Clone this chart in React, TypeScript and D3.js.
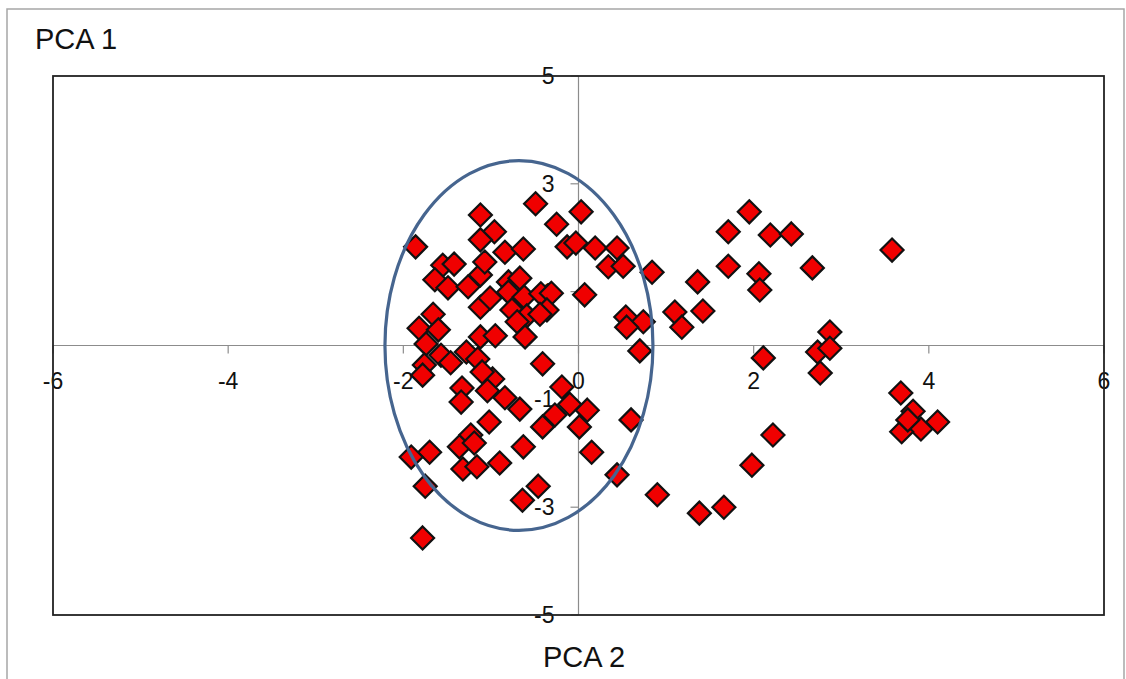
import React from "react";
import * as d3 from "d3";

// PCA scores (x = PCA 2 axis, y = PCA 1 axis)
const pcaX = [
  -1.86, -1.12, -0.96, -1.12, -0.84, -0.63, -0.49, -0.25, 0.03, -0.13,
  -0.03, 0.19, 0.44, 0.34, 0.51, 0.84, 0.07, -1.55, -1.42, -1.64,
  -1.49, -1.26, -1.12, -1.07, -1.12, -1.01, -0.8, -0.67, -0.8, -0.62,
  -0.43, -0.31, -0.76, -0.59, -0.36, -0.7, -1.66, -1.82, -1.6, -1.74,
  -1.57, -1.76, -1.46, -1.28, -1.15, -1.12, -0.95, -0.61, -0.41, 0.54,
  0.74, 0.7, -1.78, -0.98, -1.33, -1.34, -1.04, -0.84, -0.67, -0.19,
  -0.1, -0.27, -0.41, 0.1, 0.01, -1.02, -1.23, -1.36, -1.19, -1.7,
  -1.91, -0.63, 0.15, -0.9, -1.32, -1.16, -1.75, -0.46, -0.64, -1.78,
  0.6, 0.44, 0.9, 1.95, 1.71, 2.19, 2.43, 3.58, 1.36, 1.71,
  2.06, 2.07, 2.67, 1.1, 1.42, 1.18, 0.55, 2.11, 2.87, 2.73,
  2.87, 2.76, 2.22, 1.98, 1.38, 1.66, 3.68, 3.82, 4.1, 3.91,
  3.69, 3.76, -0.44, -1.1,
];
const pcaY = [
  1.83, 2.42, 2.11, 1.96, 1.73, 1.79, 2.63, 2.25, 2.48, 1.83,
  1.9, 1.81, 1.81, 1.46, 1.47, 1.36, 0.94, 1.49, 1.51, 1.22,
  1.07, 1.09, 1.31, 1.55, 0.71, 0.88, 1.18, 1.25, 0.99, 0.9,
  0.96, 0.97, 0.66, 0.55, 0.66, 0.44, 0.58, 0.32, 0.29, 0.03,
  -0.18, -0.36, -0.32, -0.12, -0.25, 0.16, 0.18, 0.16, -0.34, 0.53,
  0.44, -0.1, -0.55, -0.62, -0.79, -1.05, -0.84, -0.97, -1.18, -0.77,
  -1.09, -1.29, -1.51, -1.2, -1.51, -1.42, -1.66, -1.88, -1.81, -1.98,
  -2.07, -1.88, -1.98, -2.18, -2.29, -2.25, -2.61, -2.61, -2.87, -3.57,
  -1.38, -2.4, -2.77, 2.48, 2.11, 2.05, 2.07, 1.77, 1.18, 1.47,
  1.33, 1.03, 1.44, 0.62, 0.64, 0.34, 0.34, -0.23, 0.25, -0.12,
  -0.05, -0.51, -1.66, -2.22, -3.11, -3.0, -0.88, -1.22, -1.42, -1.55,
  -1.6, -1.38, 0.58, -0.49,
];

const xTicks = [-6, -4, -2, 0, 2, 4, 6];
const yTicks = [5, 3, 1, -1, -3, -5];
const xDomain = [-6, 6];
const yDomain = [-5, 5];
// confidence ellipse: centre and radii in data units
const ellipseCenter = [-0.68, 0];
const ellipseRadii = [1.53, 3.43];

const W = 1126;
const H = 679;

export default function App() {
  const left = 53, right = 1104, top = 76, bottom = 615;
  const x = d3.scaleLinear().domain(xDomain).range([left, right]);
  const y = d3.scaleLinear().domain(yDomain).range([bottom, top]);
  const x0 = x(0);
  const y0 = y(0);
  const r = 11.5;
  const diamond = `M0,${-r}L${r},0L0,${r}L${-r},0Z`;
  const font = "'Liberation Sans', Arial, sans-serif";

  const pts = pcaX.map((v, i) => [v, pcaY[i]]);

  return (
    <svg
      width={W}
      height={H}
      style={{ position: "absolute", left: 0, top: 0, background: "#fff" }}
    >
      <rect x={0} y={0} width={W} height={H} fill="#fff" />
      <rect x={7} y={9} width={1117} height={680} fill="none" stroke="#a6a6a6" strokeWidth={1.5} />
      <text x={35} y={49} fontFamily={font} fontSize={29} fill="#111">PCA 1</text>
      <text x={584} y={667} fontFamily={font} fontSize={29} fill="#111" textAnchor="middle">PCA 2</text>

      {/* axes through origin */}
      <line x1={left} x2={right} y1={y0} y2={y0} stroke="#8c8c8c" strokeWidth={1.2} />
      <line x1={x0} x2={x0} y1={top} y2={bottom} stroke="#8c8c8c" strokeWidth={1.2} />
      {xTicks.map((t) => (
        <g key={"xt" + t}>
          <line x1={x(t)} x2={x(t)} y1={y0} y2={y0 + 8} stroke="#8c8c8c" strokeWidth={1.2} />
          <text x={x(t)} y={y0 + 43} fontFamily={font} fontSize={23} textAnchor="middle" fill="#111">
            {t}
          </text>
        </g>
      ))}
      {yTicks.map((t) => (
        <g key={"yt" + t}>
          <line x1={x0 - 8} x2={x0} y1={y(t)} y2={y(t)} stroke="#8c8c8c" strokeWidth={1.2} />
          <text x={x0 - 24} y={y(t) + 8} fontFamily={font} fontSize={23} textAnchor="end" fill="#111">
            {t}
          </text>
        </g>
      ))}

      {/* plot area border */}
      <rect x={left} y={top} width={right - left} height={bottom - top} fill="none" stroke="#222" strokeWidth={1.8} />

      {/* points */}
      {pts.map((p, i) => (
        <path
          key={i}
          d={diamond}
          transform={`translate(${x(p[0])},${y(p[1])})`}
          fill="#f00000"
          stroke="#111"
          strokeWidth={2.2}
        />
      ))}

      <ellipse
        cx={x(ellipseCenter[0])}
        cy={y(ellipseCenter[1])}
        rx={x(ellipseRadii[0]) - x(0)}
        ry={y(0) - y(ellipseRadii[1])}
        fill="none"
        stroke="#46658f"
        strokeWidth={3.2}
      />
    </svg>
  );
}
